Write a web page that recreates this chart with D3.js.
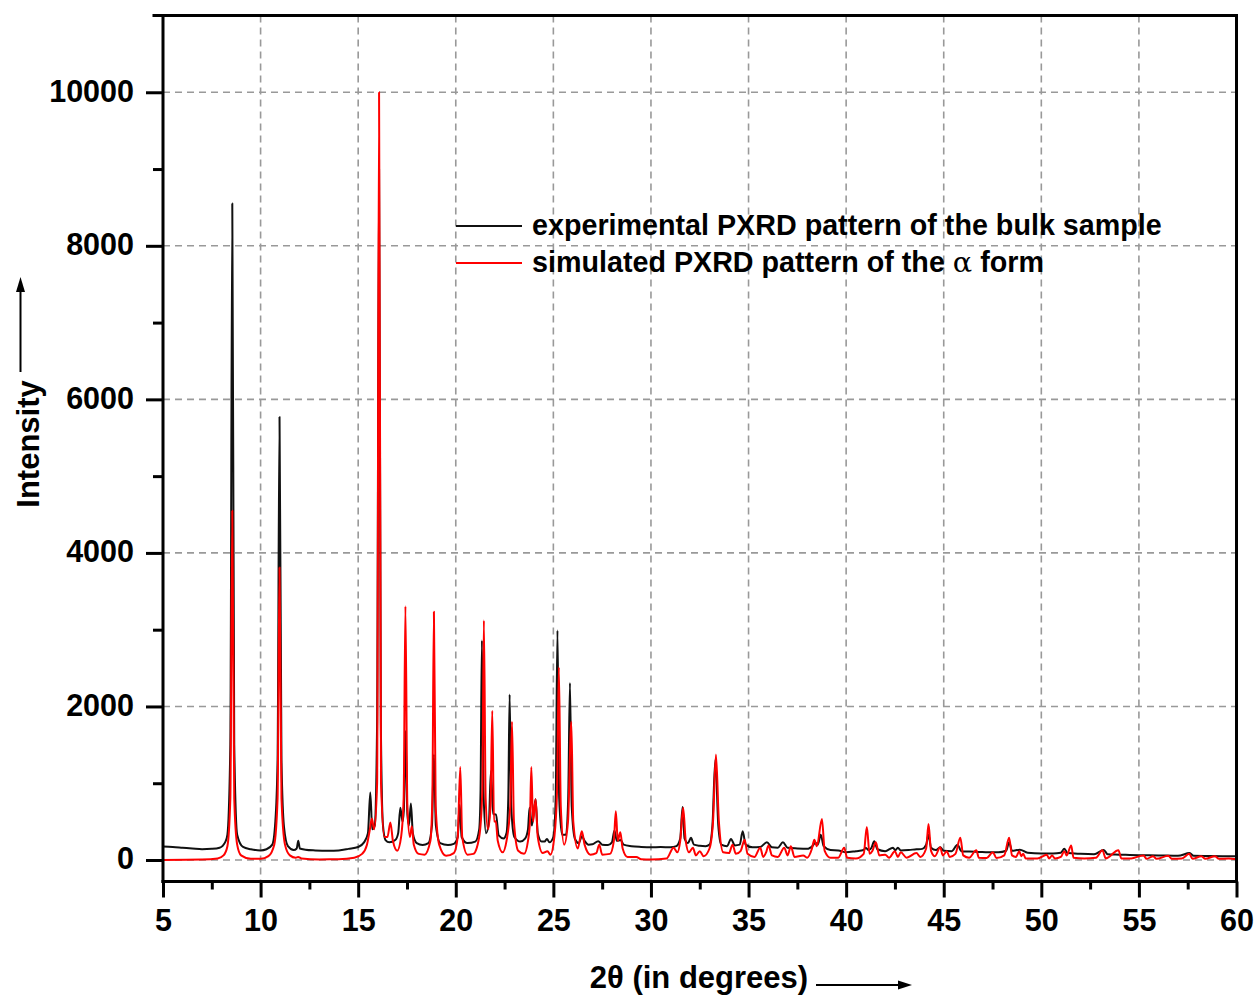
<!DOCTYPE html>
<html>
<head>
<meta charset="utf-8">
<script src="https://cdn.jsdelivr.net/npm/d3@7"></script>
<style>
  body { margin: 0; background: #fff; }
  svg { display: block; font-family: "Liberation Sans", Arial, sans-serif; font-weight: bold; }
</style>
</head>
<body>
<div id="chart"></div>
<script>
var width = 1260,
    height = 996;

// 2theta (deg), intensity
var experimental = [
  [5.0,175],[5.5,170],[6.0,160],[6.5,150],[7.0,140],[7.5,145],[7.9,160],[8.2,240],
  [8.3,330],[8.45,1500],[8.55,8550],[8.65,1500],[8.8,330],[9.1,170],[9.5,140],[10.0,125],
  [10.3,140],[10.6,200],[10.75,480],[10.87,1300],[10.97,5770],[11.07,1300],[11.2,430],[11.4,180],
  [11.7,130],[11.85,150],[11.93,250],[12.01,150],[12.3,135],[12.8,125],[13.5,120],[14.0,125],
  [14.5,145],[15.0,170],[15.3,230],[15.5,350],[15.62,880],[15.72,400],[15.85,450],[15.97,1800],
  [16.07,9000],[16.16,1800],[16.27,450],[16.4,260],[16.6,230],[16.9,260],[17.05,350],[17.16,680],
  [17.27,500],[17.34,650],[17.42,1680],[17.52,600],[17.6,450],[17.7,735],[17.8,350],[18.0,220],
  [18.3,195],[18.6,220],[18.78,450],[18.88,1375],[18.98,450],[19.2,220],[19.6,195],[19.9,210],
  [20.1,300],[20.2,720],[20.3,300],[20.6,220],[21.0,240],[21.2,400],[21.27,900],[21.34,2860],
  [21.42,900],[21.55,350],[21.7,500],[21.8,1160],[21.92,600],[22.06,590],[22.2,320],[22.45,280],
  [22.6,350],[22.69,800],[22.76,2155],[22.84,700],[23.0,300],[23.3,240],[23.55,280],[23.7,400],
  [23.78,680],[23.9,450],[24.09,790],[24.2,350],[24.4,240],[24.55,240],[24.67,275],[24.8,230],
  [25.0,300],[25.12,800],[25.21,2990],[25.3,800],[25.45,330],[25.65,330],[25.76,800],[25.85,2305],
  [25.94,700],[26.1,280],[26.3,220],[26.46,310],[26.6,250],[26.8,200],[27.0,205],[27.3,245],
  [27.5,200],[27.8,195],[28.0,230],[28.13,385],[28.25,250],[28.45,260],[28.6,200],[29.0,180],
  [29.5,170],[30.0,165],[30.5,170],[31.0,165],[31.3,180],[31.5,280],[31.62,690],[31.72,280],
  [31.9,220],[32.05,290],[32.2,200],[32.5,185],[32.8,180],[33.0,200],[33.15,450],[33.3,1310],
  [33.45,450],[33.6,200],[33.9,180],[34.1,275],[34.3,190],[34.55,200],[34.7,375],[34.85,200],
  [35.2,165],[35.6,170],[35.94,230],[36.2,165],[36.5,160],[36.76,230],[37.0,160],[37.5,150],
  [38.0,145],[38.3,190],[38.42,225],[38.55,200],[38.7,330],[38.85,180],[39.2,130],[39.6,125],
  [40.0,100],[40.5,115],[40.9,130],[41.0,160],[41.15,130],[41.3,160],[41.44,245],[41.6,140],
  [42.0,115],[42.4,160],[42.52,125],[42.65,160],[42.8,125],[43.2,130],[43.6,140],[43.9,145],
  [44.1,200],[44.22,330],[44.35,160],[44.6,130],[44.82,165],[45.0,120],[45.4,115],[45.71,200],
  [45.9,115],[46.3,110],[46.8,105],[47.3,100],[47.8,100],[48.2,120],[48.35,230],[48.5,120],
  [48.9,135],[49.3,95],[50.0,85],[50.6,85],[51.0,95],[51.18,145],[51.35,90],[52.0,80],
  [52.7,75],[53.2,130],[53.4,75],[54.0,70],[55.0,62],[56.0,60],[57.0,55],[57.6,90],
  [57.8,55],[58.5,52],[59.3,50],[60.0,50]
];

var simulated = [
  [5.0,0],[7.0,5],[7.8,20],[8.1,60],[8.3,180],[8.45,800],[8.55,4550],[8.65,800],
  [8.8,200],[9.0,60],[9.5,15],[10.0,15],[10.4,50],[10.7,200],[10.87,800],[10.97,3810],
  [11.07,800],[11.25,200],[11.5,60],[11.8,30],[11.92,40],[12.1,20],[13.0,8],[14.0,10],
  [14.8,30],[15.2,80],[15.45,200],[15.6,400],[15.7,540],[15.82,400],[15.97,1000],[16.07,10000],
  [16.17,1000],[16.35,300],[16.5,300],[16.65,490],[16.78,250],[17.0,120],[17.2,300],[17.33,800],
  [17.42,3305],[17.52,700],[17.65,300],[17.75,440],[17.85,200],[18.1,80],[18.4,70],[18.7,250],
  [18.8,800],[18.88,3235],[18.97,700],[19.15,200],[19.5,55],[19.9,90],[20.1,300],[20.23,1210],
  [20.33,300],[20.6,70],[20.9,80],[21.2,300],[21.36,900],[21.44,3120],[21.53,800],[21.65,400],
  [21.78,700],[21.87,1945],[21.96,500],[22.05,505],[22.15,250],[22.4,100],[22.6,250],[22.79,700],
  [22.88,1800],[22.98,500],[23.2,120],[23.5,80],[23.7,250],[23.8,500],[23.87,1210],[23.96,500],
  [24.09,790],[24.2,300],[24.45,90],[24.7,115],[24.85,70],[25.05,300],[25.19,900],[25.28,2510],
  [25.38,700],[25.55,200],[25.75,500],[25.92,1800],[26.02,500],[26.25,150],[26.46,375],[26.6,200],
  [26.9,70],[27.2,90],[27.35,200],[27.5,70],[27.9,80],[28.1,250],[28.2,635],[28.3,250],
  [28.43,362],[28.55,150],[28.8,40],[29.25,40],[29.5,10],[30.0,5],[30.8,20],[31.16,160],
  [31.35,100],[31.5,250],[31.65,680],[31.78,250],[31.95,100],[32.15,160],[32.3,60],[32.5,115],
  [32.7,50],[33.0,150],[33.18,500],[33.33,1375],[33.48,500],[33.7,100],[34.0,90],[34.18,200],
  [34.35,80],[34.6,120],[34.8,265],[34.95,80],[35.3,40],[35.6,160],[35.75,40],[35.9,100],
  [36.02,190],[36.2,60],[36.5,40],[36.83,160],[37.0,60],[37.17,180],[37.35,40],[37.8,60],
  [38.0,30],[38.25,150],[38.37,265],[38.5,180],[38.76,535],[38.9,120],[39.2,30],[39.6,30],
  [39.9,160],[40.05,30],[40.5,20],[40.9,80],[41.06,430],[41.2,80],[41.35,120],[41.52,230],
  [41.7,60],[42.0,70],[42.2,30],[42.5,115],[42.65,40],[42.8,100],[43.1,30],[43.6,90],
  [43.8,40],[44.1,150],[44.22,470],[44.35,120],[44.55,50],[44.82,165],[44.95,60],[45.16,115],
  [45.3,40],[45.6,80],[45.85,290],[46.0,60],[46.3,30],[46.67,128],[46.8,30],[47.2,25],
  [47.52,100],[47.7,25],[48.1,60],[48.35,290],[48.5,60],[48.7,40],[48.87,115],[48.97,50],
  [49.07,80],[49.2,20],[49.8,20],[50.28,70],[50.4,20],[50.55,60],[50.7,20],[51.0,40],
  [51.18,115],[51.3,60],[51.53,190],[51.65,30],[52.2,20],[52.8,30],[53.13,128],[53.3,20],
  [53.95,128],[54.1,20],[54.6,20],[55.23,60],[55.4,15],[55.73,50],[55.9,15],[56.5,55],
  [56.7,15],[57.2,20],[57.58,80],[57.75,15],[58.2,50],[58.4,15],[58.9,50],[59.1,15],
  [59.6,20],[60.0,10]
];

var xMajorTicks = [5, 10, 15, 20, 25, 30, 35, 40, 45, 50, 55, 60];
var xMinorTicks = [7.5, 12.5, 17.5, 22.5, 27.5, 32.5, 37.5, 42.5, 47.5, 52.5, 57.5];
var yMajorTicks = [0, 2000, 4000, 6000, 8000, 10000];
var yMinorTicks = [1000, 3000, 5000, 7000, 9000];

var legendLabels = ["experimental PXRD pattern of the bulk sample", "simulated PXRD pattern of the "];
var seriesColors = ["#111", "#ff0000"];

// plot box (note: "top" is taken by window.top)
var boxLeft = 163, boxRight = 1236.5, boxTop = 15.5, boxBottom = 881.5;

var x = d3.scaleLinear().domain([5, 60]).range([boxLeft, boxRight]);
var y = d3.scaleLinear().domain([-280, 11000]).range([boxBottom, boxTop]);

var svg = d3.select("#chart").append("svg")
    .attr("width", width)
    .attr("height", height);

svg.append("rect").attr("width", width).attr("height", height).attr("fill", "#fff");

/* grid */
var grid = svg.append("g")
    .attr("stroke", "#999")
    .attr("stroke-width", 1.6)
    .attr("stroke-dasharray", "7,5");

grid.selectAll(".vgrid")
    .data(xMajorTicks.slice(1, -1))
    .enter().append("line")
    .attr("x1", function(d){ return x(d); })
    .attr("x2", function(d){ return x(d); })
    .attr("y1", boxTop)
    .attr("y2", boxBottom);

grid.selectAll(".hgrid")
    .data(yMajorTicks)
    .enter().append("line")
    .attr("x1", boxLeft)
    .attr("x2", boxRight)
    .attr("y1", function(d){ return y(d); })
    .attr("y2", function(d){ return y(d); });

/* patterns */
var line = d3.line()
    .x(function(d){ return x(d[0]); })
    .y(function(d){ return y(d[1]); })
    .curve(d3.curveMonotoneX);

[experimental, simulated].forEach(function(series, i){
  svg.append("path")
    .datum(series)
    .attr("d", line)
    .attr("fill", "none")
    .attr("stroke", seriesColors[i])
    .attr("stroke-width", 2)
    .attr("stroke-linejoin", "round");
});

/* axes */
var xAxis = d3.axisBottom(x)
    .tickValues(xMajorTicks)
    .tickSize(16)
    .tickSizeOuter(0)
    .tickPadding(12)
    .tickFormat(d3.format("d"));

var xMinor = d3.axisBottom(x)
    .tickValues(xMinorTicks)
    .tickSize(8)
    .tickSizeOuter(0)
    .tickFormat("");

var yAxis = d3.axisLeft(y)
    .tickValues(yMajorTicks)
    .tickSize(17)
    .tickSizeOuter(0)
    .tickPadding(12)
    .tickFormat(d3.format("d"));

var yMinor = d3.axisLeft(y)
    .tickValues(yMinorTicks)
    .tickSize(10)
    .tickSizeOuter(0)
    .tickFormat("");

function styleAxis(g){
  g.select(".domain").remove();
  g.selectAll(".tick line").attr("stroke", "#000").attr("stroke-width", 3);
  g.selectAll(".tick text")
    .attr("fill", "#000")
    .style("font-size", "30.5px")
    .style("font-weight", "bold")
    .style("font-family", "'Liberation Sans', Arial, sans-serif");
}

svg.append("g").attr("transform", "translate(0," + boxBottom + ")").call(xAxis).call(styleAxis);
svg.append("g").attr("transform", "translate(0," + boxBottom + ")").call(xMinor).call(styleAxis);
svg.append("g").attr("transform", "translate(" + boxLeft + ",0)").call(yAxis).call(styleAxis)
    .selectAll(".tick text").attr("dy", "0.29em");
svg.append("g").attr("transform", "translate(" + boxLeft + ",0)").call(yMinor).call(styleAxis);

// frame
var frame = svg.append("g").attr("stroke", "#000").attr("stroke-width", 3).attr("stroke-linecap", "square");
frame.append("line").attr("x1", 154).attr("x2", boxRight).attr("y1", boxTop).attr("y2", boxTop);
frame.append("line").attr("x1", boxLeft).attr("x2", boxLeft).attr("y1", boxTop).attr("y2", boxBottom);
frame.append("line").attr("x1", boxRight).attr("x2", boxRight).attr("y1", boxTop).attr("y2", boxBottom);
frame.append("line").attr("x1", boxLeft).attr("x2", boxRight).attr("y1", boxBottom).attr("y2", boxBottom);

/* legend */
var legend = svg.append("g");
[226, 263].forEach(function(ly, i){
  legend.append("line")
    .attr("x1", 456).attr("x2", 522)
    .attr("y1", ly).attr("y2", ly)
    .attr("stroke", seriesColors[i])
    .attr("stroke-width", 1.8);
  var t = legend.append("text")
    .attr("x", 532)
    .attr("y", ly + 9)
    .style("font-size", "28.7px")
    .text(legendLabels[i]);
  if (i == 1) {
    t.append("tspan").style("font-weight", "normal").style("font-family", "'DejaVu Serif', serif").text("\u03b1");
    t.append("tspan").text(" form");
  }
});

/* axis titles */
svg.append("text")
    .attr("x", 699)
    .attr("y", 988)
    .attr("text-anchor", "middle")
    .style("font-size", "31px")
    .text("2\u03b8 (in degrees)");

svg.append("text")
    .attr("transform", "translate(39,444) rotate(-90)")
    .attr("text-anchor", "middle")
    .style("font-size", "31px")
    .text("Intensity");

// arrows next to the titles
svg.append("line").attr("x1", 816).attr("x2", 902).attr("y1", 985).attr("y2", 985)
    .attr("stroke", "#000").attr("stroke-width", 2);
svg.append("path").attr("d", "M912,985 L898,980.5 L898,989.5 Z").attr("fill", "#000");

svg.append("line").attr("x1", 20.5).attr("x2", 20.5).attr("y1", 372).attr("y2", 288)
    .attr("stroke", "#000").attr("stroke-width", 2);
svg.append("path").attr("d", "M20.5,277 L16,292 L25,292 Z").attr("fill", "#000");
</script>
</body>
</html>
